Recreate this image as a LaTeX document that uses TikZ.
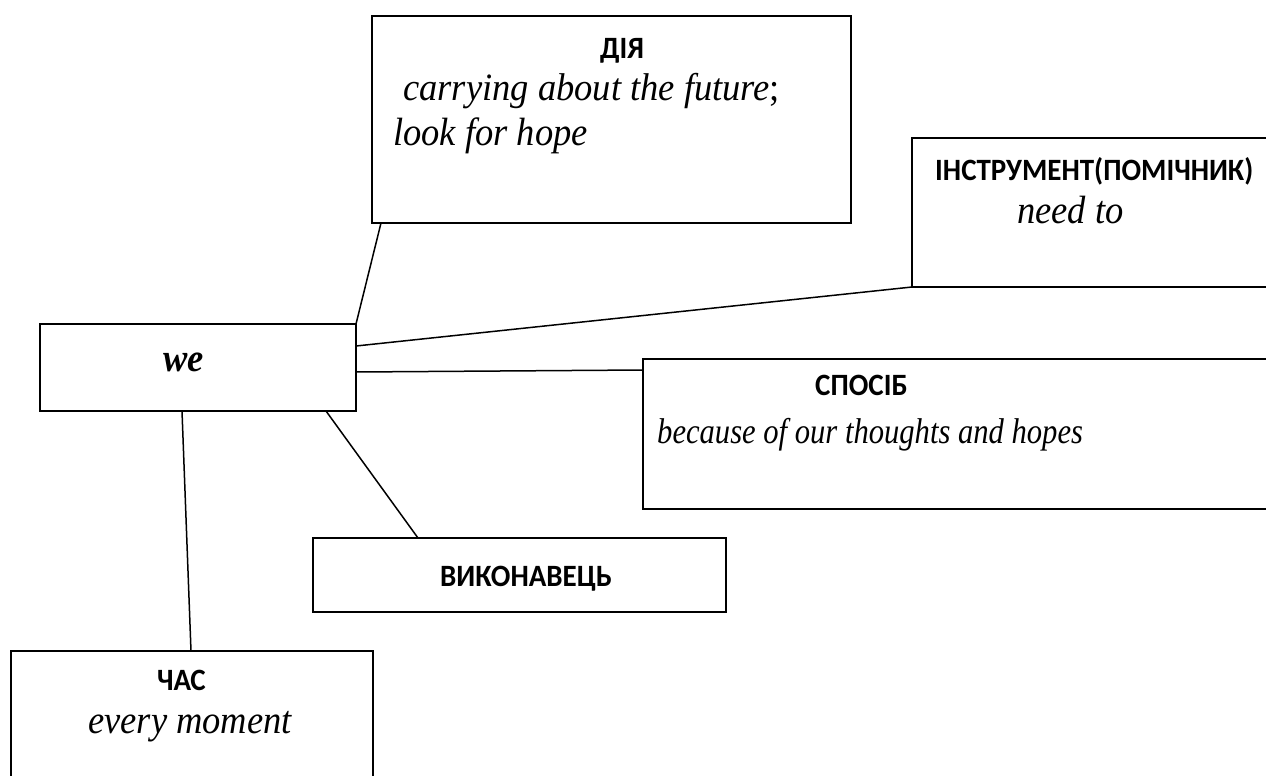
\documentclass[tikz,border=0pt]{standalone}
\usepackage{fontspec}
\usepackage{graphicx}
\setmainfont{Liberation Serif}
\newfontfamily\hdfont{Carlito}
\usetikzlibrary{calc}
\newcommand{\vst}[2]{\scalebox{1}[#1]{#2}}
\tikzset{
  box/.style={draw, line width=1.8pt, inner sep=0pt, outer sep=0pt, anchor=north west},
  conn/.style={line width=1.5pt},
  hd/.style={anchor=base west, inner sep=0pt, font=\hdfont\bfseries\fontsize{29}{35}\selectfont},
  it/.style={anchor=base west, inner sep=0pt, font=\itshape\fontsize{36.5}{44}\selectfont},
  itsm/.style={anchor=base west, inner sep=0pt, font=\itshape\fontsize{30.6}{37}\selectfont},
}
\begin{document}
\begin{tikzpicture}[x=1pt,y=-1pt]
\clip (0,0) rectangle (1266,776);
\fill[white] (0,0) rectangle (1266,776);
% boxes
\node[box, minimum width=316pt, minimum height=87pt] (we) at (40,324) {};
\node[box, minimum width=479pt, minimum height=207pt] (dia) at (372,16) {};
\node[box, minimum width=380pt, minimum height=149pt] (instr) at (912,138) {};
\node[box, minimum width=650pt, minimum height=150pt] (sposib) at (643,359) {};
\node[box, minimum width=413pt, minimum height=74pt] (vykon) at (313,538) {};
\node[box, minimum width=362pt, minimum height=160pt] (chas) at (11,651) {};
% texts
\node[it, font=\bfseries\itshape\fontsize{36.5}{44}\selectfont] (weT) at (163,371) {\vst{1.08}{we}};
\node[hd] (diaH) at (600,59) {\vst{1.07}{ДІЯ}};
\node[it] (diaA) at (403,100) {\vst{1.06}{carrying about the future\upshape;}};
\node[it] (diaB) at (393,145) {\vst{1.08}{look for hope}};
\node[hd] (instrH) at (935,180) {\vst{1.07}{ІНСТРУМЕНТ(ПОМІЧНИК)}};
\node[it] (instrA) at (1017,223) {\vst{1.08}{need to}};
\node[hd] (sposibH) at (815,395) {\vst{1.07}{СПОСІБ}};
\node[itsm] (sposibA) at (657,443) {\vst{1.17}{because of our thoughts and hopes}};
\node[hd] (vykonH) at (440,586) {\vst{1.07}{ВИКОНАВЕЦЬ}};
\node[hd] (chasH) at (157,690) {\vst{1.07}{ЧАС}};
\node[it] (chasA) at (88,733) {\vst{1.08}{every moment}};
% connectors
\draw[conn] (we.north east) -- ($(dia.south west)+(9,0)$);
\draw[conn] ($(we.north east)+(0,22)$) -- (instr.south west);
\draw[conn] ($(we.north east)+(0,48)$) -- ($(sposib.north west)+(0,11)$);
\draw[conn] ($(we.south west)+(286,0)$) -- ($(vykon.north west)+(105,0)$);
\draw[conn] ($(we.south west)+(142,0)$) -- ($(chas.north west)+(180,0)$);
\end{tikzpicture}
\end{document}
